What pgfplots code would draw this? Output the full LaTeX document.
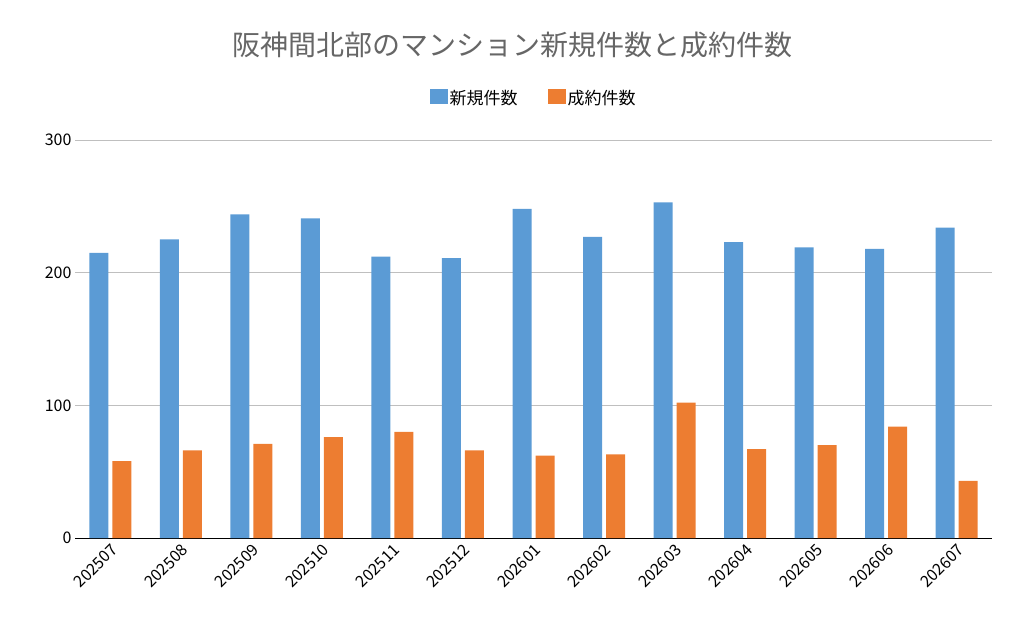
\documentclass[border=0pt]{standalone}
\usepackage{pgfplots}
\pgfplotsset{compat=1.18}
\usepackage{fontspec}
\setmainfont{Noto Sans CJK JP}
\definecolor{cb}{HTML}{5B9BD5}
\definecolor{co}{HTML}{ED7D31}
\begin{document}
\begin{tikzpicture}
\useasboundingbox (-75pt,-96pt) rectangle (949pt,538pt);
\begin{axis}[at={(0,0)},anchor=south west,scale only axis,width=917pt,height=398pt,
 ybar=4pt,bar width=19pt,
 ymin=0,ymax=300,ytick={0,100,200,300},
 xmin=-0.5,xmax=12.5,xtick=data,
 xticklabels={202507,202508,202509,202510,202511,202512,202601,202602,202603,202604,202605,202606,202607},
 x tick label style={rotate=45,anchor=north east,font=\fontsize{16}{16}\selectfont},
 y tick label style={font=\fontsize{16}{16}\selectfont},
 /pgf/number format/assume math mode=true,
 ymajorgrids,grid style={gray!50},
 axis x line*=bottom,axis y line*=left,y axis line style={draw=none},
 x axis line style={black,line width=0.8pt},
 major tick length=0pt,
 enlarge x limits=false,
 legend style={at={(0.5,1.105)},anchor=center,draw=none,legend columns=2,font=\fontsize{17}{17}\selectfont,/tikz/every even column/.append style={column sep=28pt}},
 legend image code/.code={\fill[#1] (0pt,-6pt) rectangle (18pt,9pt);},
 ]
\addplot[fill=cb,draw=none] coordinates {(0,215)(1,225)(2,244)(3,241)(4,212)(5,211)(6,248)(7,227)(8,253)(9,223)(10,219)(11,218)(12,234)};
\addplot[fill=co,draw=none] coordinates {(0,58)(1,66)(2,71)(3,76)(4,80)(5,66)(6,62)(7,63)(8,102)(9,67)(10,70)(11,84)(12,43)};
\legend{新規件数,成約件数}
\end{axis}
\node[text=gray!80!black,font=\fontsize{28}{28}\selectfont] at (437pt,493pt) {阪神間北部のマンション新規件数と成約件数};
\end{tikzpicture}
\end{document}
